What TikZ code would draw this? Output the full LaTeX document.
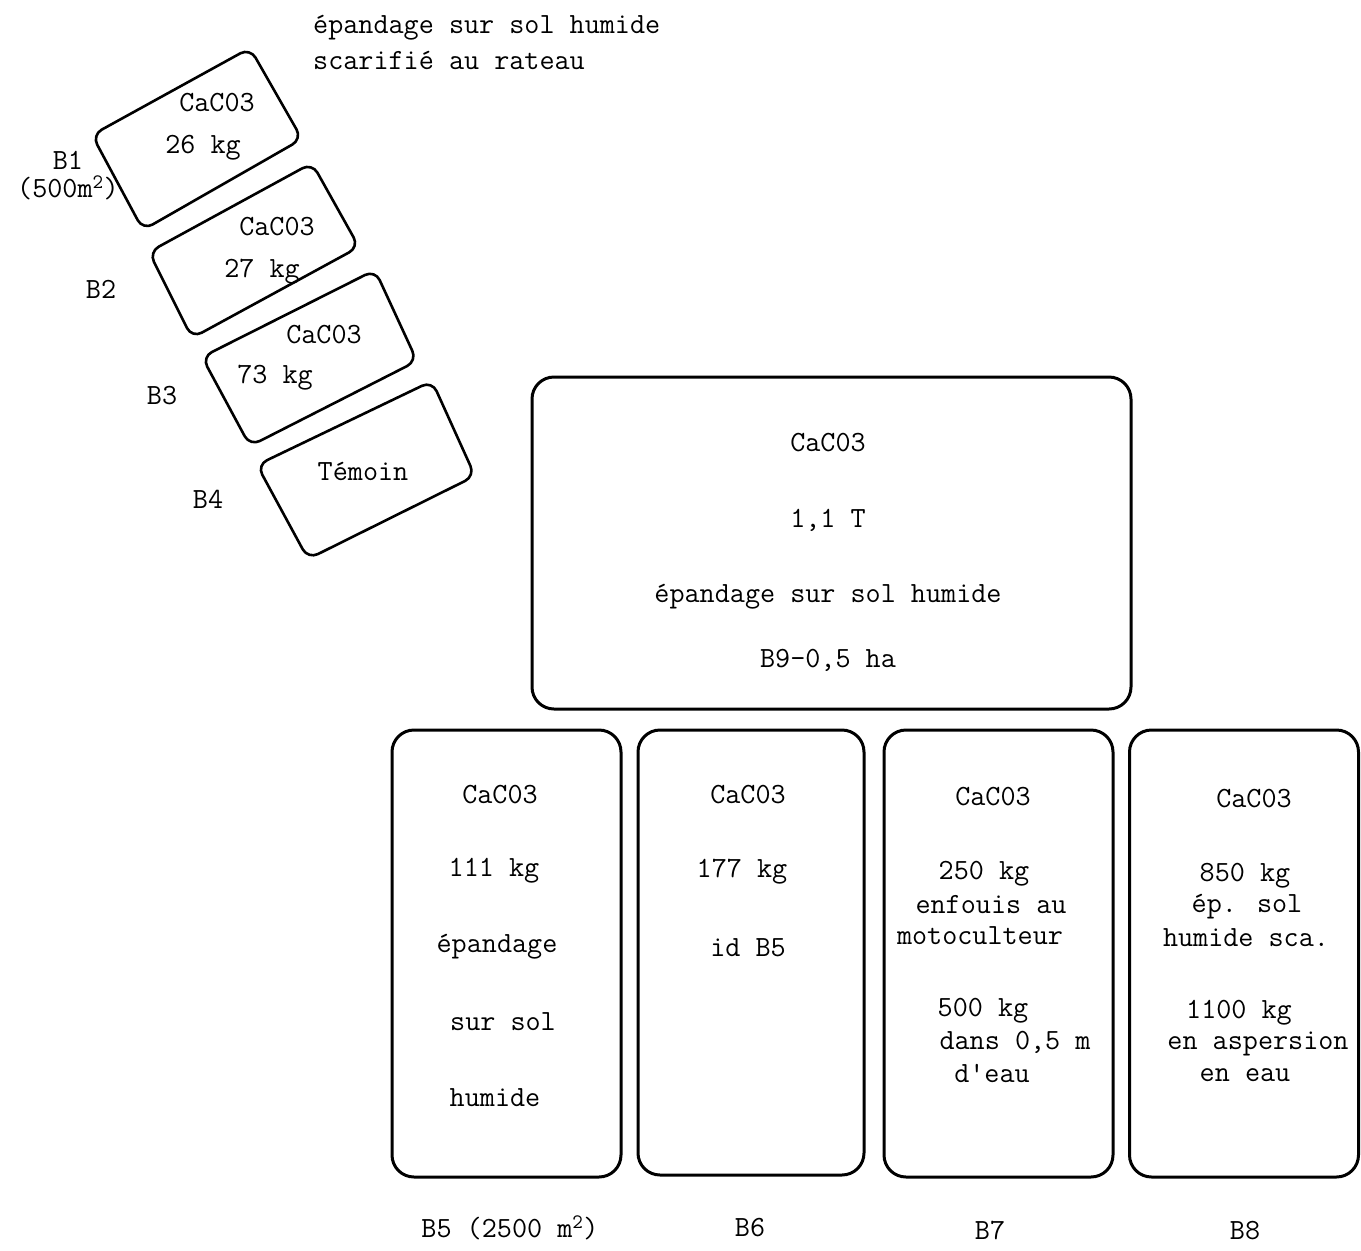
\documentclass[tikz,border=0pt]{standalone}
\usepackage{fontspec}
\begin{document}
\begin{tikzpicture}[x=1pt,y=-1pt,
  txt/.style={inner sep=0pt,font=\ttfamily\fontsize{29.3}{29}\selectfont},
  tilt/.style={line width=2.6pt,rounded corners=11pt,line join=round},
  plot/.style={draw,line width=3pt,rounded corners=22pt,inner sep=0pt}]
\useasboundingbox (0,0) rectangle (1361,1251);
% top caption
\node[txt,anchor=west] (cap1) at (313,28) {épandage sur sol humide};
\node[txt,anchor=west] (cap2) at (313,60) {scarifié au rateau};
% tilted small plots
\coordinate (a1) at (92,135); \coordinate (a2) at (250,48); \coordinate (a3) at (302,139); \coordinate (a4) at (143,230);
\coordinate (b1) at (149,252); \coordinate (b2) at (312,163); \coordinate (b3) at (359,247); \coordinate (b4) at (192,338);
\coordinate (c1) at (202,357); \coordinate (c2) at (375,270); \coordinate (c3) at (417,361); \coordinate (c4) at (250,446);
\coordinate (d1) at (257,465); \coordinate (d2) at (432,381); \coordinate (d3) at (475,476); \coordinate (d4) at (308,559);
\draw[tilt] (a1)--(a2)--(a3)--(a4)--cycle;
\draw[tilt] (b1)--(b2)--(b3)--(b4)--cycle;
\draw[tilt] (c1)--(c2)--(c3)--(c4)--cycle;
\draw[tilt] (d1)--(d2)--(d3)--(d4)--cycle;
\node[txt] (t1a) at (217,103) {CaC03};
\node[txt] (t1b) at (203,148) {26 kg};
\node[txt] (t2a) at (277,227) {CaC03};
\node[txt] (t2b) at (262,272) {27 kg};
\node[txt] (t3a) at (324,335) {CaC03};
\node[txt] (t3b) at (275,378) {73 kg};
\node[txt] (t4a) at (363,471) {Témoin};
\node[txt,align=center] (l1) at (68,176) {B1\\[-1pt](500m\textsuperscript{2})};
\node[txt] (l2) at (101,289) {B2};
\node[txt] (l3) at (162,396) {B3};
\node[txt] (l4) at (208,499) {B4};
% big plot B9
\node[plot,minimum width=599pt,minimum height=332pt] (B9) at (831.5,543) {};
\node[txt] (t9a) at (828,443) {CaC03};
\node[txt] (t9b) at (828,520) {1,1 T};
\node[txt] (t9c) at (828,597) {épandage sur sol humide};
\node[txt] (t9d) at (828,660) {B9-0,5 ha};
% bottom plots
\node[plot,minimum width=229pt,minimum height=447pt] (B5) at (506.5,953.5) {};
\node[plot,minimum width=226pt,minimum height=445pt] (B6) at (751,952.5) {};
\node[plot,minimum width=229pt,minimum height=447pt] (B7) at (998.5,953.5) {};
\node[plot,minimum width=229pt,minimum height=447pt] (B8) at (1244,953.5) {};
\node[txt] (t5a) at (500,795) {CaC03};
\node[txt] (t5b) at (494,871) {111 kg};
\node[txt] (t5c) at (497,947) {épandage};
\node[txt] (t5d) at (503,1022) {sur sol};
\node[txt] (t5e) at (495,1098) {humide};
\node[txt] (t6a) at (748,795) {CaC03};
\node[txt] (t6b) at (742,872) {177 kg};
\node[txt] (t6c) at (748,948) {id B5};
\node[txt] (t7a) at (993,797) {CaC03};
\node[txt] (t7b) at (984,874) {250 kg};
\node[txt] (t7c) at (991,905) {enfouis au};
\node[txt] (t7d) at (980,936) {motoculteur};
\node[txt] (t7e) at (983,1011) {500 kg};
\node[txt] (t7f) at (1015,1042) {dans 0,5 m};
\node[txt] (t7g) at (992,1073) {d'eau};
\node[txt] (t8a) at (1254,799) {CaC03};
\node[txt] (t8b) at (1245,876) {850 kg};
\node[txt] (t8c) at (1247,907) {ép. sol};
\node[txt] (t8d) at (1246,938) {humide sca.};
\node[txt] (t8e) at (1239,1013) {1100 kg};
\node[txt] (t8f) at (1258,1044) {en aspersion};
\node[txt] (t8g) at (1245,1075) {en eau};
\node[txt] (l5) at (510,1228) {B5 (2500 m\textsuperscript{2})};
\node[txt] (l6) at (750,1228) {B6};
\node[txt] (l7) at (990,1230) {B7};
\node[txt] (l8) at (1245,1231) {B8};
\end{tikzpicture}
\end{document}
